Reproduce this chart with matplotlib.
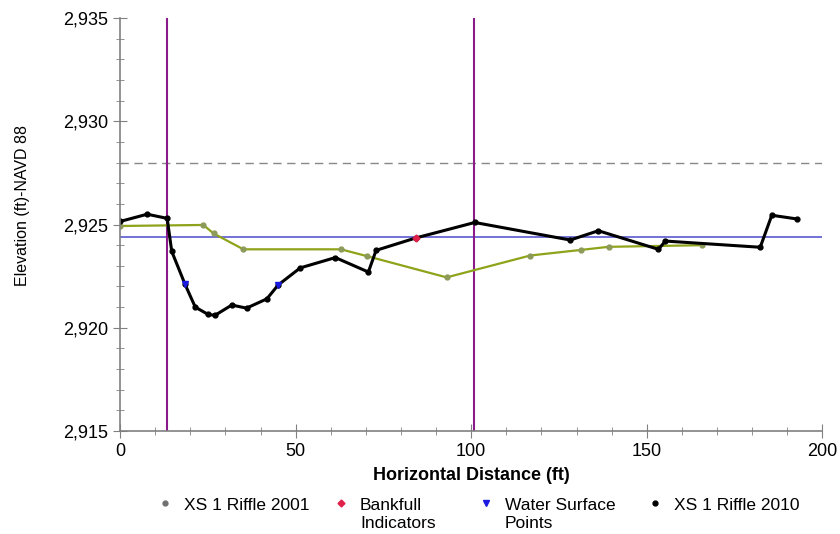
import matplotlib.pyplot as plt
from matplotlib.ticker import MultipleLocator, FuncFormatter
from matplotlib.lines import Line2D

plt.rcParams['font.family'] = ['Liberation Sans', 'DejaVu Sans']

# XS 1 Riffle 2010 survey
x_2010 = [0, 7.7, 13.4, 14.7, 18.5, 21.4, 25.0, 27.0, 31.8, 36.0, 41.8, 45.0,
          51.3, 61.3, 70.7, 72.9, 84.2, 101.0, 128.2, 136.2, 153.3, 155.3,
          182.3, 185.6, 192.8]
z_2010 = [2925.15, 2925.5, 2925.3, 2923.7, 2922.1, 2921.0, 2920.65, 2920.6,
          2921.1, 2920.95, 2921.4, 2922.07, 2922.9, 2923.4, 2922.7, 2923.75,
          2924.35, 2925.1, 2924.25, 2924.7, 2923.8, 2924.2, 2923.9, 2925.45,
          2925.27]

# XS 1 Riffle 2001 survey
x_2001 = [0, 23.7, 26.6, 35.1, 62.9, 70.3, 93.0, 116.8, 131.2, 139.1, 165.7]
z_2001 = [2924.93, 2924.98, 2924.57, 2923.8, 2923.8, 2923.47, 2922.44,
          2923.5, 2923.77, 2923.92, 2924.0]

# water surface and bankfull points
x_ws = [18.5, 45.0]
z_ws = [2922.1, 2922.07]
x_bkf = [84.2]
z_bkf = [2924.35]

bank_x = [13.4, 100.9]
ws_elev = 2924.4
flood_elev = 2928.0

fig = plt.figure(figsize=(8.4, 5.34), dpi=100)
ax = fig.add_axes([0.143, 0.193, 0.836, 0.773])

ax.axhline(flood_elev, color='#888888', lw=1, ls=(0, (6, 4)))
ax.axhline(ws_elev, color='#5a5ad0', lw=1.2)
for bx in bank_x:
    ax.axvline(bx, color='#8b1a8b', lw=1.5)

ax.plot(x_2001, z_2001, color='#8fa31a', lw=1.6, marker='o', ms=3.5,
        mfc='#8c9a5a', mec='#8c9a5a')
ax.plot(x_2010, z_2010, color='black', lw=2.2, marker='o', ms=3.5)
ax.plot(x_ws, z_ws, ls='none', marker='v', color='#1a1ae0', ms=5)
ax.plot(x_bkf, z_bkf, ls='none', marker='D', color='#e0204a', ms=3.5)

ax.set_xlim(0, 200)
ax.set_ylim(2915, 2935)
ax.xaxis.set_major_locator(MultipleLocator(50))
ax.xaxis.set_minor_locator(MultipleLocator(10))
ax.yaxis.set_major_locator(MultipleLocator(5))
ax.yaxis.set_minor_locator(MultipleLocator(1))
ax.yaxis.set_major_formatter(FuncFormatter(lambda v, p: f'{v:,.0f}'))

for s in ['top', 'right']:
    ax.spines[s].set_visible(False)
for s in ['left', 'bottom']:
    ax.spines[s].set_color('#808080')
    ax.spines[s].set_linewidth(1.2)
ax.tick_params(which='both', direction='inout', colors='#808080',
               labelcolor='black', labelsize=13)
ax.tick_params(which='major', length=10)
ax.tick_params(which='minor', length=6)

ax.set_xlabel('Horizontal Distance (ft)', fontsize=13, fontweight='bold',
              labelpad=5)
ax.set_ylabel('Elevation (ft)-NAVD 88', fontsize=11.5)
ax.yaxis.set_label_coords(-0.128, 0.545)

# legend: one entry per block, second lines hang under the first
leg_handles = [
    Line2D([], [], ls='none', marker='o', ms=3.5, color='#707070'),
    Line2D([], [], ls='none', marker='D', ms=3.5, color='#e0204a'),
    Line2D([], [], ls='none', marker='v', ms=5, color='#1a1ae0'),
    Line2D([], [], ls='none', marker='o', ms=3.5, color='black'),
]
leg_first = ['XS 1 Riffle 2001', 'Bankfull', 'Water Surface', 'XS 1 Riffle 2010']
leg_second = ['', 'Indicators', 'Points', '']
leg_px = [165, 341, 486, 655]   # marker centres, pixels

W, H = 840, 534
fs = 12.5
half_handle = 0.5 * fs * 100 / 72
legends = []
for h, lab, xm in zip(leg_handles, leg_first, leg_px):
    lg = fig.legend([h], [lab], loc='center left', frameon=False,
                    bbox_to_anchor=((xm - half_handle) / W, 1 - 505 / H),
                    fontsize=fs, handlelength=1, handletextpad=0.6,
                    borderpad=0, borderaxespad=0)
    legends.append(lg)

fig.canvas.draw()
for lg, sec in zip(legends, leg_second):
    if sec:
        bb = lg.get_texts()[0].get_window_extent()
        fig.text(bb.x0 / W, 1 - 524 / H, sec, fontsize=fs, va='center',
                 ha='left')

fig.savefig('out.png', dpi=100)
